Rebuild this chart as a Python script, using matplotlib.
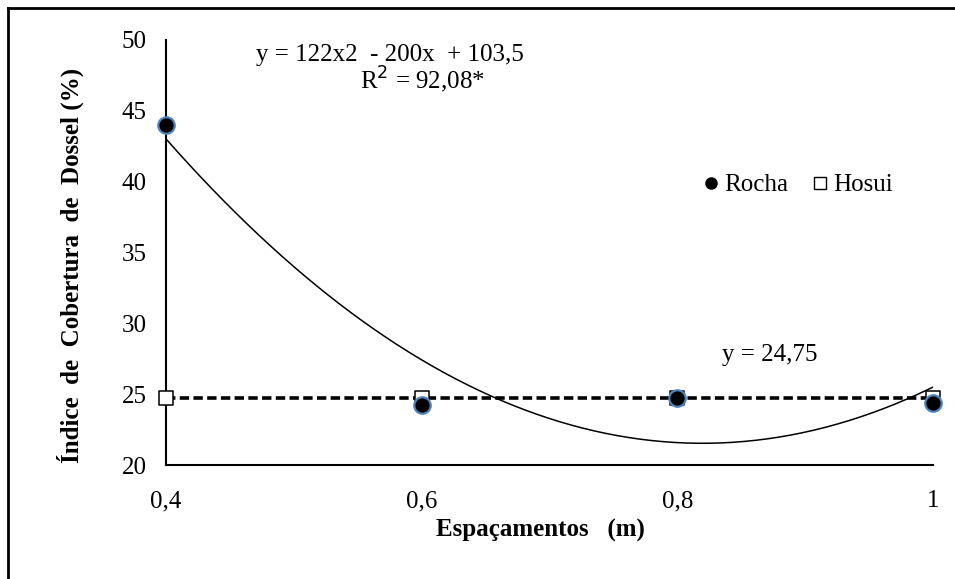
import numpy as np
import matplotlib
matplotlib.use("Agg")
import matplotlib.pyplot as plt
from matplotlib.lines import Line2D

plt.rcParams['font.family'] = ['Liberation Serif', 'DejaVu Serif']

espacamentos = [0.4, 0.6, 0.8, 1.0]
rocha = [44.0, 24.2, 24.7, 24.4]
hosui = [24.75, 24.75, 24.75, 24.75]
quad_coef = [122.0, -200.0, 103.5]
hosui_mean = 24.75
x_ticks = [0.4, 0.6, 0.8, 1.0]
x_ticklabels = ["0,4", "0,6", "0,8", "1"]
y_ticks = [20, 25, 30, 35, 40, 45, 50]

fig = plt.figure(figsize=(9.55, 5.79), dpi=100)
ax = fig.add_axes([166/955, 1-465/579, (933-166)/955, (465-40)/579])

xs = np.linspace(min(espacamentos), max(espacamentos), 200)
ax.plot(xs, np.polyval(quad_coef, xs), color='black', lw=1.1, zorder=2)
ax.plot([espacamentos[0], espacamentos[-1]], [hosui_mean, hosui_mean],
        color='black', lw=2.6, ls=(0, (2.6, 1.2)), zorder=2)

ax.scatter(espacamentos, hosui, marker='s', s=115, facecolor='white',
           edgecolor='black', linewidth=1.1, zorder=3, clip_on=False)
ax.scatter(espacamentos, rocha, marker='o', s=140, facecolor='black',
           edgecolor='#4F81BD', linewidth=1.6, zorder=4, clip_on=False)

ax.set_xlim(0.4, 1.0)
ax.set_ylim(20, 50)
ax.set_xticks(x_ticks)
ax.set_xticklabels(x_ticklabels)
ax.set_yticks(y_ticks)
ax.tick_params(length=0, labelsize=18)
ax.tick_params(axis='y', pad=14)
ax.tick_params(axis='x', pad=18)
for s in ['top', 'right']:
    ax.spines[s].set_visible(False)
for s in ['left', 'bottom']:
    ax.spines[s].set_linewidth(1.5)

fig.text(540/955, 1-530/579, "Espaçamentos   (m)", fontsize=18, fontweight='bold',
         ha='center', va='center')
fig.text(70/955, 1-265/579, "Índice  de  Cobertura  de  Dossel (%)", fontsize=18,
         fontweight='bold', ha='center', va='center', rotation=90, rotation_mode='anchor')

fig.text(390/955, 1-55/579, "y = 122x2  - 200x  + 103,5", fontsize=18, ha='center', va='center')
fig.text(422/955, 1-80/579, "R$^2$ = 92,08*", fontsize=18, ha='center', va='center')
fig.text(770/955, 1-355/579, "y = 24,75", fontsize=18, ha='center', va='center')

handles = [Line2D([], [], marker='o', color='black', ls='none', markersize=8),
           Line2D([], [], marker='s', markerfacecolor='white', markeredgecolor='black',
                  markeredgewidth=1, ls='none', markersize=9)]
fig.legend(handles, ["Rocha", "Hosui"], loc='center', bbox_to_anchor=(797/955, 1-185/579),
           ncol=2, frameon=False, fontsize=18, handletextpad=0.1, columnspacing=0.9,
           handlelength=0.8, borderpad=0, borderaxespad=0)

fig.add_artist(Line2D([8/955, 8/955], [0, 1-8/579], color='black', lw=2, transform=fig.transFigure))
fig.add_artist(Line2D([8/955, 1], [1-8/579, 1-8/579], color='black', lw=2, transform=fig.transFigure))

fig.savefig("out.png", dpi=100)
